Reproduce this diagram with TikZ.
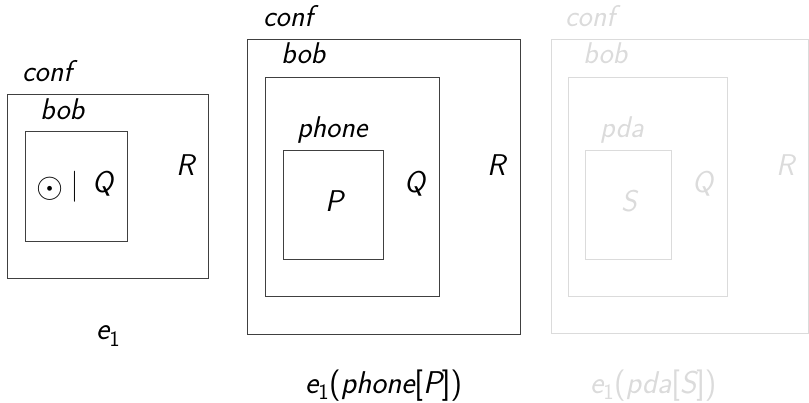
\documentclass[tikz,border=0pt]{standalone}
\usepackage{fontspec}
\usepackage{graphicx}
\begin{document}
\begin{tikzpicture}[x=1pt,y=-1pt,
  lbl/.style={inner sep=0pt,anchor=base west,font=\fontsize{30}{36}\selectfont\sffamily\itshape},
  sym/.style={inner sep=0pt,font=\fontsize{30}{36}\selectfont},
  captxt/.style={lbl,font=\fontsize{31.5}{38}\selectfont\sffamily\itshape},
  box/.style={draw=black!75,line width=0.9pt},
  fbox/.style={draw=black!14,line width=0.9pt},
  faint/.style={lbl,text=black!14},
  fcaptxt/.style={captxt,text=black!14}]
\useasboundingbox (0,0) rectangle (809,403);
% diagram 1
\draw[box] (7,94) rectangle (208,278);
\draw[box] (25,131) rectangle (127,241);
\node[lbl] (c1) at (22,82) {conf};
\node[lbl] (b1) at (40,120) {bob};
\node[sym] (o1) at (50.3,189) {\scalebox{1.4}{$\odot$}};
\node[sym] (m1) at (74.5,186.7) {\scalebox{1}[1.25]{$|$}};
\node[lbl] (q1) at (92,193) {Q};
\node[lbl] (r1) at (176,176) {R};
\node[captxt] (e1) at (96,340) {e\textsubscript{\upshape 1}};
% diagram 2
\draw[box] (247,39) rectangle (520,334);
\draw[box] (265,77) rectangle (439,296);
\draw[box] (283,150) rectangle (383,259);
\node[lbl] (c2) at (263,27) {conf};
\node[lbl] (b2) at (281,64) {bob};
\node[lbl] (ph2) at (297,138) {phone};
\node[lbl] (p2) at (325,212) {P};
\node[lbl] (q2) at (404,193) {Q};
\node[lbl] (r2) at (487,176) {R};
\node[captxt] (e2) at (305,393) {e\textsubscript{\upshape 1}{\upshape(}phone{\upshape[}P{\upshape])}};
% diagram 3
\draw[fbox] (551,39) rectangle (808,333);
\draw[fbox] (568,77) rectangle (727,296);
\draw[fbox] (585,150) rectangle (671,259);
\node[faint] (c3) at (565,27) {conf};
\node[faint] (b3) at (583,64) {bob};
\node[faint] (pd3) at (600,138) {pda};
\node[faint] (s3) at (621,212) {S};
\node[faint] (q3) at (692,193) {Q};
\node[faint] (r3) at (776,176) {R};
\node[fcaptxt] (e3) at (590,393) {e\textsubscript{\upshape 1}{\upshape(}pda{\upshape[}S{\upshape])}};
\end{tikzpicture}
\end{document}
